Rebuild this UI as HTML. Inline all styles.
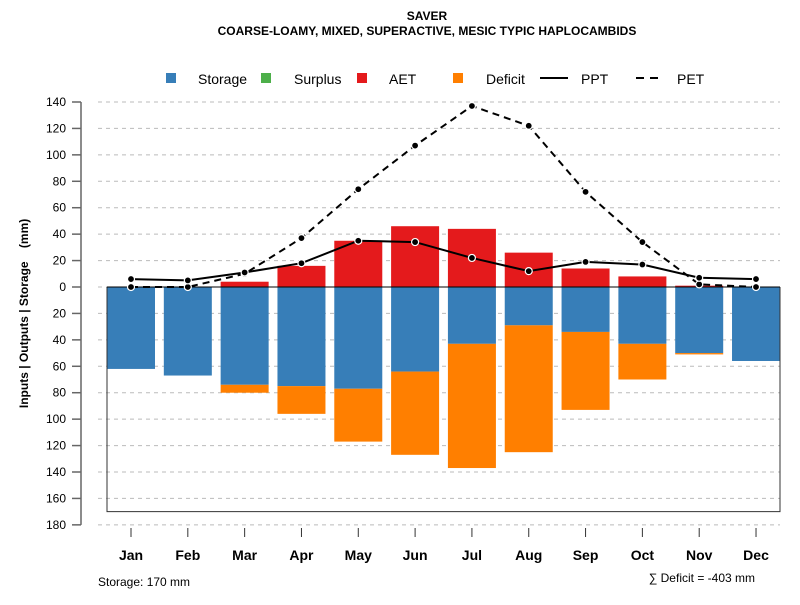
<!DOCTYPE html>
<html><head><meta charset="utf-8"><style>body{margin:0;background:#fff}svg{font-family:"Liberation Sans",sans-serif}</style></head>
<body>
<svg id="c" width="800" height="600" viewBox="0 0 800 600"></svg>
<script>
const months=["Jan","Feb","Mar","Apr","May","Jun","Jul","Aug","Sep","Oct","Nov","Dec"];
const storage=[62,67,74,75,77,64,43,29,34,43,50,56];
const deficit=[0,0,6,21,40,63,94,96,59,27,1,0];
const aet=[0,0,4,16,35,46,44,26,14,8,1,0];
const ppt=[6,5,11,18,35,34,22,12,19,17,7,6];
const pet=[0,0,10,37,74,107,137,122,72,34,2,0];
const yTicks=[140,120,100,80,60,40,20,0,-20,-40,-60,-80,-100,-120,-140,-160,-180];
const storageCap=170;
const NS="http://www.w3.org/2000/svg";
const svg=document.getElementById('c');
function y(v){return 287-v*185/140;}
function x(i){return 131+i*56.82;}
function mk(t,a,p){const e=document.createElementNS(NS,t);for(const k in a)e.setAttribute(k,a[k]);(p||svg).appendChild(e);return e;}
function txt(s,a){const e=mk('text',a);e.textContent=s;return e;}
let e;
e=txt("SAVER",{x:427,y:20,'text-anchor':'middle','font-size':12,'font-weight':'bold'});
e=txt("COARSE-LOAMY, MIXED, SUPERACTIVE, MESIC TYPIC HAPLOCAMBIDS",{x:427,y:35,'text-anchor':'middle','font-size':12,'font-weight':'bold'});
mk('line',{x1:81,x2:81,y1:y(140),y2:y(-180),stroke:'#666','stroke-width':1.5});
yTicks.forEach(v=>{
 e=mk('line',{x1:98,x2:780,y1:y(v),y2:y(v),stroke:'#bbb','stroke-dasharray':'4,4'});
 mk('line',{x1:72,x2:81,y1:y(v),y2:y(v),stroke:'#666','stroke-width':1.5});
 e=txt(String(Math.abs(v)),{x:66,y:y(v)+4,'text-anchor':'end','font-size':12});
});
e=txt("Inputs | Outputs | Storage    (mm)",{x:0,y:0,'font-size':12,'font-weight':'bold','text-anchor':'middle',style:'white-space:pre',transform:`translate(28,${y(-20)}) rotate(-90)`});
const bw=48;
months.forEach((m,i)=>{
 const cx=x(i);
 e=mk('rect',{x:cx-bw/2,y:y(0),width:bw,height:y(-storage[i])-y(0),fill:'#377eb8'});
 if(deficit[i]>0){e=mk('rect',{x:cx-bw/2,y:y(-storage[i]),width:bw,height:y(-storage[i]-deficit[i])-y(-storage[i]),fill:'#ff7f00'});}
 if(aet[i]>0){e=mk('rect',{x:cx-bw/2,y:y(aet[i]),width:bw,height:y(0)-y(aet[i]),fill:'#e41a1c'});}
 mk('line',{x1:cx,x2:cx,y1:528,y2:537,stroke:'#333'});
 e=txt(m,{x:cx,y:560,'text-anchor':'middle','font-size':14,'font-weight':'bold'});
});
e=mk('polyline',{points:`107,${y(0)} 107,${y(-storageCap)} 780,${y(-storageCap)} 780,${y(0)}`,fill:'none',stroke:'#333'});
mk('line',{x1:107,x2:780,y1:y(0),y2:y(0),stroke:'#000'});
function line(d,dash,name){
 e=mk('polyline',{points:d.map((v,i)=>x(i)+','+y(v)).join(' '),fill:'none',stroke:'#000','stroke-width':2,'stroke-dasharray':dash});
 d.forEach((v,i)=>{e=mk('circle',{cx:x(i),cy:y(v),r:3.5,fill:'#000',stroke:'#fff','stroke-width':1.2});});
}
line(pet,'7,5','pet');line(ppt,'','ppt');
const lg=mk('g',{});
[["Storage",'#377eb8',166,198],["Surplus",'#4daf4a',261,294],["AET",'#e41a1c',357,389],["Deficit",'#ff7f00',453,486]].forEach(([n,c,px,tx])=>{
 e=mk('rect',{x:px,y:73,width:10,height:10,fill:c},lg);
 e=mk('text',{x:tx,y:84,'font-size':14},lg);e.textContent=n;
});
mk('line',{x1:540,x2:568,y1:78,y2:78,stroke:'#000','stroke-width':2},lg);
e=mk('text',{x:581,y:84,'font-size':14},lg);e.textContent="PPT";
mk('line',{x1:636,x2:664,y1:78,y2:78,stroke:'#000','stroke-width':2,'stroke-dasharray':'8,6'},lg);
e=mk('text',{x:677,y:84,'font-size':14},lg);e.textContent="PET";
e=txt("Storage: 170 mm",{x:98,y:586,'font-size':12});
e=txt("∑ Deficit = -403 mm",{x:755,y:582,'text-anchor':'end','font-size':12});
</script>
</body></html>
